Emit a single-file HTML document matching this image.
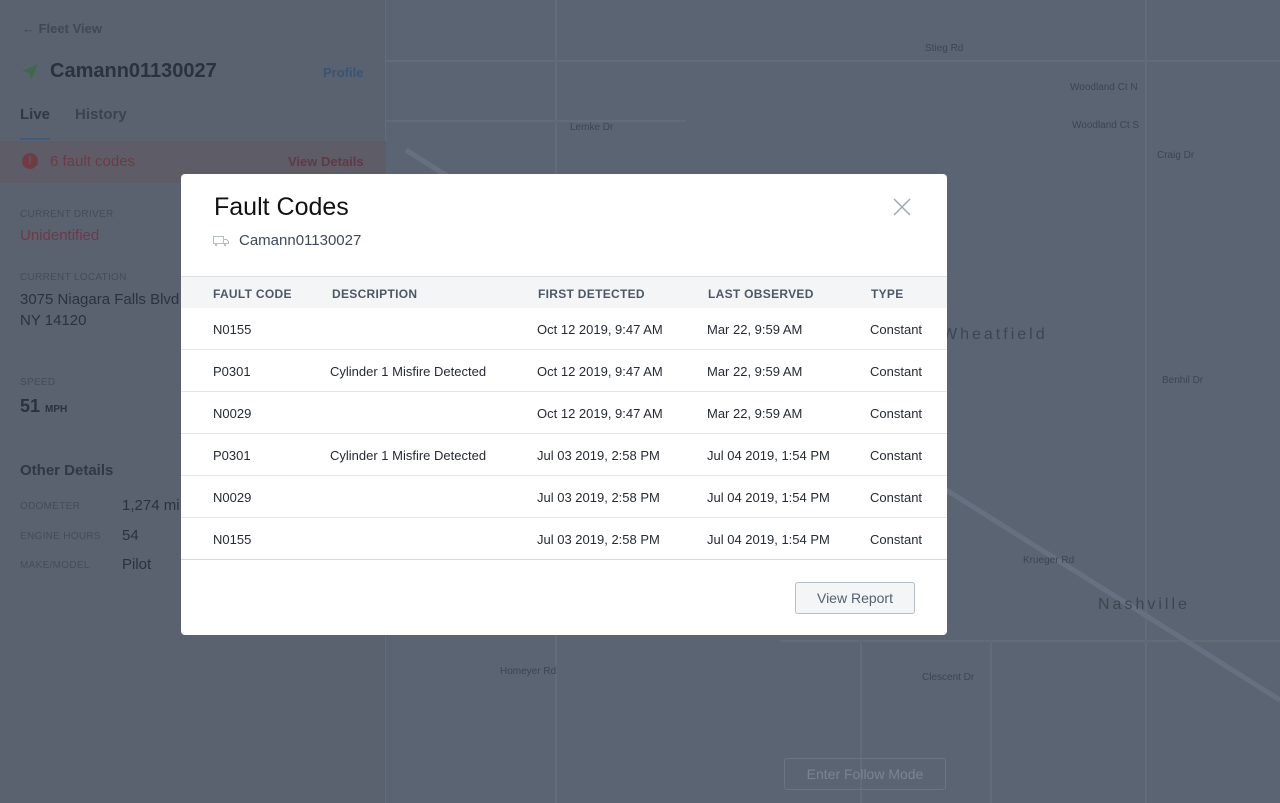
<!DOCTYPE html>
<html><head><meta charset="utf-8"><style>
*{margin:0;padding:0;box-sizing:border-box}
html,body{width:1280px;height:803px;overflow:hidden}
body{background:#5b6472;font-family:"Liberation Sans",sans-serif;position:relative}
.side{position:absolute;left:0;top:0;width:386px;height:803px;background:#5a6270;border-right:1px solid #636c7a}
.t{position:absolute;white-space:nowrap}
.lab{font-size:10px;color:#444c5a;letter-spacing:.3px}
.road{position:absolute;background:#636b79}
.mt{position:absolute;font-size:10px;color:#3d4552;white-space:nowrap}
.modal{position:absolute;left:181px;top:174px;width:766px;height:461px;background:#fff;border-radius:4px;overflow:hidden}
.hdr{position:absolute;left:0;top:102px;width:766px;height:32px;background:#f4f5f7;border-top:1px solid #dde0e5}
.row{position:absolute;left:0;width:766px;height:42px;border-bottom:1px solid #e3e5e9}
.c{position:absolute;top:14px;font-size:13px;color:#262b33;white-space:nowrap}
.h{position:absolute;top:10px;font-size:12px;font-weight:bold;color:#4d5867;letter-spacing:.3px}
</style></head><body>
<div class="road" style="left:555px;top:0;width:2px;height:803px"></div>
<div class="road" style="left:1145px;top:0;width:2px;height:803px"></div>
<div class="road" style="left:386px;top:60px;width:894px;height:2px"></div>
<div class="road" style="left:386px;top:120px;width:300px;height:2px"></div>
<div class="road" style="left:780px;top:640px;width:500px;height:2px"></div>
<div class="road" style="left:860px;top:640px;width:2px;height:163px"></div>
<div class="road" style="left:990px;top:640px;width:2px;height:163px"></div>
<svg class="t" style="left:386px;top:0" width="894" height="803"><line x1="20" y1="150" x2="894" y2="700" stroke="#667080" stroke-width="5"/></svg>
<div class="mt" style="left:925px;top:43px">Stieg Rd</div>
<div class="mt" style="left:570px;top:122px">Lemke Dr</div>
<div class="mt" style="left:1070px;top:82px">Woodland Ct N</div>
<div class="mt" style="left:1072px;top:120px">Woodland Ct S</div>
<div class="mt" style="left:1157px;top:150px">Craig Dr</div>
<div class="mt" style="left:1162px;top:375px">Benhil Dr</div>
<div class="mt" style="left:1023px;top:555px">Krueger Rd</div>
<div class="mt" style="left:500px;top:666px">Homeyer Rd</div>
<div class="mt" style="left:922px;top:672px">Clescent Dr</div>
<div class="mt" style="left:942px;top:326px;font-size:16px;letter-spacing:3px">Wheatfield</div>
<div class="mt" style="left:1098px;top:596px;font-size:16px;letter-spacing:3px">Nashville</div>
<div class="t" style="left:784px;top:758px;width:162px;height:32px;border:1px solid #6b7482;border-radius:3px;color:#7b8492;font-size:14px;text-align:center;line-height:30px">Enter Follow Mode</div>
<div class="side">
<div class="t" style="left:22px;top:21px;font-size:13px;color:#3e4857;font-weight:bold">← Fleet View</div>
<svg class="t" style="left:21px;top:63px" width="18" height="18"><polygon points="17,1 1,8 8,10 10,17" fill="#3f6a4a"/></svg>
<div class="t" style="left:50px;top:60px;font-size:20px;font-weight:bold;color:#2a3240">Camann01130027</div>
<div class="t" style="left:323px;top:65px;font-size:13px;font-weight:bold;color:#385473">Profile</div>
<div class="t" style="left:20px;top:106px;font-size:15px;font-weight:bold;color:#2f3845">Live</div>
<div class="t" style="left:20px;top:138px;width:30px;height:2px;background:#3c5d80"></div>
<div class="t" style="left:75px;top:106px;font-size:15px;font-weight:bold;color:#3a4351">History</div>
<div class="t" style="left:0;top:141px;width:386px;height:42px;background:#5e5d67"></div>
<div class="t" style="left:22px;top:153px;width:16px;height:16px;border-radius:50%;background:#6f3c45;color:#5e5d67;font-size:11px;font-weight:bold;text-align:center;line-height:16px">!</div>
<div class="t" style="left:50px;top:153px;font-size:15px;color:#6b3b45">6 fault codes</div>
<div class="t" style="left:288px;top:154px;font-size:13px;font-weight:bold;color:#5f3a44">View Details</div>
<div class="t lab" style="left:20px;top:209px">CURRENT DRIVER</div>
<div class="t" style="left:20px;top:227px;font-size:15px;color:#6d3a45">Unidentified</div>
<div class="t lab" style="left:20px;top:272px">CURRENT LOCATION</div>
<div class="t" style="left:20px;top:289px;font-size:15px;color:#2a3240;line-height:21px">3075 Niagara Falls Blvd<br>NY 14120</div>
<div class="t lab" style="left:20px;top:377px">SPEED</div>
<div class="t" style="left:20px;top:396px;font-size:18px;font-weight:bold;color:#2a3240">51 <span style="font-size:10px">MPH</span></div>
<div class="t" style="left:20px;top:462px;font-size:15px;font-weight:bold;color:#2f3845">Other Details</div>
<div class="t lab" style="left:20px;top:501px">ODOMETER</div><div class="t" style="left:122px;top:497px;font-size:15px;color:#2a3240">1,274 mi</div>
<div class="t lab" style="left:20px;top:531px">ENGINE HOURS</div><div class="t" style="left:122px;top:527px;font-size:15px;color:#2a3240">54</div>
<div class="t lab" style="left:20px;top:560px">MAKE/MODEL</div><div class="t" style="left:122px;top:556px;font-size:15px;color:#2a3240">Pilot</div>
</div>
<div class="modal">
<div class="t" style="left:33px;top:19px;font-size:25px;color:#111">Fault Codes</div>
<svg class="t" style="left:32px;top:61px" width="16" height="12"><rect x="0.5" y="1.5" width="10" height="7" fill="none" stroke="#b5bcc6"/><path d="M10.5 4.5h3l2 2v2h-5" fill="none" stroke="#b5bcc6"/><circle cx="3" cy="10" r="1.2" fill="#b5bcc6"/><circle cx="12" cy="10" r="1.2" fill="#b5bcc6"/></svg>
<div class="t" style="left:58px;top:58px;font-size:15px;color:#3f4a5a">Camann01130027</div>
<svg class="t" style="left:712px;top:24px" width="18" height="18"><path d="M1 1L17 17M17 1L1 17" stroke="#a0a7b1" stroke-width="1.5"/></svg>
<div class="hdr">
<div class="h" style="left:32px">FAULT CODE</div><div class="h" style="left:151px">DESCRIPTION</div><div class="h" style="left:357px">FIRST DETECTED</div><div class="h" style="left:527px">LAST OBSERVED</div><div class="h" style="left:690px">TYPE</div>
</div>
<div class="row" style="top:134px"><div class="c" style="left:32px">N0155</div><div class="c" style="left:356px">Oct 12 2019, 9:47 AM</div><div class="c" style="left:526px">Mar 22, 9:59 AM</div><div class="c" style="left:689px">Constant</div></div>
<div class="row" style="top:176px"><div class="c" style="left:32px">P0301</div><div class="c" style="left:149px">Cylinder 1 Misfire Detected</div><div class="c" style="left:356px">Oct 12 2019, 9:47 AM</div><div class="c" style="left:526px">Mar 22, 9:59 AM</div><div class="c" style="left:689px">Constant</div></div>
<div class="row" style="top:218px"><div class="c" style="left:32px">N0029</div><div class="c" style="left:356px">Oct 12 2019, 9:47 AM</div><div class="c" style="left:526px">Mar 22, 9:59 AM</div><div class="c" style="left:689px">Constant</div></div>
<div class="row" style="top:260px"><div class="c" style="left:32px">P0301</div><div class="c" style="left:149px">Cylinder 1 Misfire Detected</div><div class="c" style="left:356px">Jul 03 2019, 2:58 PM</div><div class="c" style="left:526px">Jul 04 2019, 1:54 PM</div><div class="c" style="left:689px">Constant</div></div>
<div class="row" style="top:302px"><div class="c" style="left:32px">N0029</div><div class="c" style="left:356px">Jul 03 2019, 2:58 PM</div><div class="c" style="left:526px">Jul 04 2019, 1:54 PM</div><div class="c" style="left:689px">Constant</div></div>
<div class="row" style="top:344px;border-bottom:1px solid #d5d9df"><div class="c" style="left:32px">N0155</div><div class="c" style="left:356px">Jul 03 2019, 2:58 PM</div><div class="c" style="left:526px">Jul 04 2019, 1:54 PM</div><div class="c" style="left:689px">Constant</div></div>
<div class="t" style="left:614px;top:408px;width:120px;height:32px;border:1px solid #b6bec8;border-radius:3px;background:#f4f5f7;color:#56606e;font-size:14px;text-align:center;line-height:30px">View Report</div>
</div>
</body></html>
